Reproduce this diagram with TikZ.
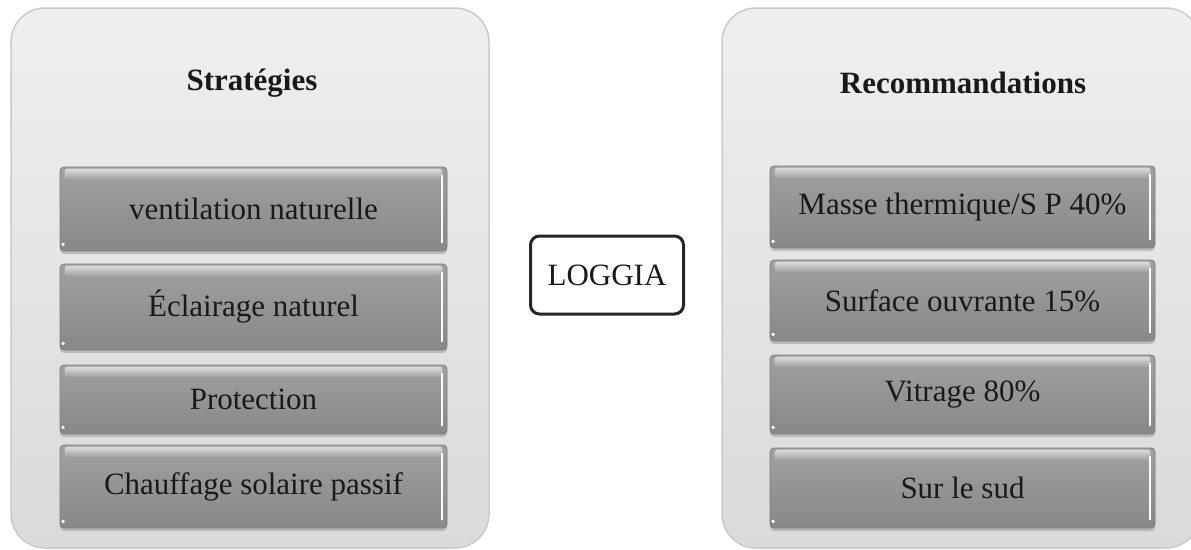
\documentclass[tikz,border=0pt]{standalone}
\usepackage{fontspec}
\setmainfont{Liberation Serif}
\usetikzlibrary{shadows,fadings}
\definecolor{panelTop}{HTML}{EFEFEF}
\definecolor{panelBot}{HTML}{DADADA}
\definecolor{panelEdge}{HTML}{CACACA}
\definecolor{boxTop}{HTML}{A0A0A0}
\definecolor{boxBot}{HTML}{888888}
\definecolor{boxEdge}{HTML}{7E7E7E}
\begin{document}
\begin{tikzpicture}[x=1pt,y=-1pt,
  every node/.style={font=\fontsize{31}{36}\selectfont, text=black!90},
  panel/.style={rounded corners=34pt, top color=panelTop, bottom color=panelBot,
    draw=panelEdge, line width=1.5pt},
  title/.style={font=\fontsize{31}{36}\selectfont\bfseries},
  itembox/.style={rectangle, rounded corners=4pt, top color=boxTop, bottom color=boxBot,
    draw=boxEdge, line width=0.8pt, inner sep=0pt,
    drop shadow={shadow xshift=0pt, shadow yshift=-3pt, fill=black!45, opacity=0.45}},
  centerbox/.style={rectangle, rounded corners=9pt, draw=black!85, line width=3pt,
    fill=white, minimum width=153pt, minimum height=78pt, inner sep=0pt}]

% canvas
\useasboundingbox (0,0) rectangle (1191,549);
\begin{scope}
\clip (0,0) rectangle (1191,549);

% the two panels
\path[panel] (11,8) rectangle (489,548);
\path[panel] (722,8) rectangle (1200,548);

% panel titles
\node[title] (tS) at (252,83) {Stratégies};
\node[title] (tR) at (963,83) {Recommandations};

% left column
\node[itembox, minimum width=387pt, minimum height=84pt] (s1) at (253.5,209) {ventilation naturelle};
\node[itembox, minimum width=387pt, minimum height=86pt] (s2) at (253.5,307) {Éclairage naturel};
\node[itembox, minimum width=387pt, minimum height=69pt] (s3) at (253.5,399.5) {Protection};
\node[itembox, minimum width=387pt, minimum height=83pt] (s4) at (253.5,486.5) {Chauffage solaire passif};

% right column
\node[itembox, minimum width=385pt, minimum height=82pt] (r1) at (962.5,207) {Masse thermique/S P 40\%};
\node[itembox, minimum width=385pt, minimum height=81pt] (r2) at (962.5,300.5) {Surface ouvrante 15\%};
\node[itembox, minimum width=385pt, minimum height=79pt] (r3) at (962.5,394.5) {Vitrage 80\%};
\node[itembox, minimum width=385pt, minimum height=80pt] (r4) at (962.5,488) {Sur le sud};

% glossy details on each item box
\foreach \b in {s1,s2,s3,s4,r1,r2,r3,r4}{
  \fill[white, opacity=0.65, path fading=south, rounded corners=3pt]
    ([xshift=5pt,yshift=-2pt]\b.north west) rectangle ([xshift=-5pt,yshift=-13pt]\b.north east);
  \draw[white, line width=2pt, line cap=round]
    ([xshift=-5pt,yshift=-9pt]\b.north east) -- ([xshift=-5pt,yshift=9pt]\b.south east);
  \fill[white] ([xshift=3.5pt,yshift=7pt]\b.south west) circle (1.8pt);
}
\end{scope}

% central label
\node[centerbox] (lg) at (607,275) {LOGGIA};
\end{tikzpicture}
\end{document}
